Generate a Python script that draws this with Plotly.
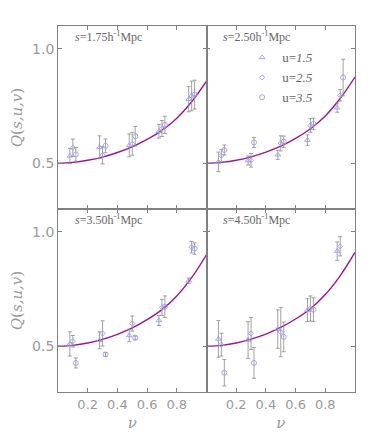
import plotly.graph_objects as go
from plotly.subplots import make_subplots

# ---- data ----
v_u15 = [0.08, 0.28, 0.48, 0.68, 0.88]
v_u25 = [0.10, 0.30, 0.50, 0.70, 0.90]
v_u35 = [0.12, 0.32, 0.52, 0.72, 0.92]

panel_labels = ["<i>s</i>=1.75h<sup>-1</sup>Mpc", "<i>s</i>=2.50h<sup>-1</sup>Mpc",
                "<i>s</i>=3.50h<sup>-1</sup>Mpc", "<i>s</i>=4.50h<sup>-1</sup>Mpc"]

# panel order: TL, TR, BL, BR
q15 = [[0.532, 0.570, 0.578, 0.640, 0.780],
       [0.506, 0.512, 0.537, 0.601, 0.743],
       [0.510, 0.526, 0.547, 0.613, 0.786],
       [0.532, 0.527, 0.575, 0.658, 0.916]]
e15 = [[0.033, 0.050, 0.050, 0.030, 0.055],
       [0.043, 0.020, 0.020, 0.023, 0.020],
       [0.053, 0.037, 0.027, 0.022, 0.012],
       [0.080, 0.080, 0.084, 0.050, 0.040]]
q25 = [[0.568, 0.535, 0.585, 0.652, 0.794],
       [0.533, 0.513, 0.587, 0.665, 0.797],
       [0.522, 0.556, 0.599, 0.670, 0.933],
       [0.507, 0.556, 0.562, 0.665, 0.937]]
e25 = [[0.038, 0.038, 0.050, 0.035, 0.065],
       [0.027, 0.030, 0.033, 0.030, 0.025],
       [0.025, 0.055, 0.033, 0.035, 0.025],
       [0.050, 0.070, 0.108, 0.055, 0.042]]
q35 = [[0.539, 0.576, 0.618, 0.668, 0.800],
       [0.558, 0.591, 0.594, 0.672, 0.875],
       [0.427, 0.464, 0.537, 0.673, 0.927],
       [0.384, 0.427, 0.541, 0.660, None]]
e35 = [[0.030, 0.030, 0.043, 0.038, 0.063],
       [0.022, 0.022, 0.025, 0.025, 0.080],
       [0.022, 0.008, 0.008, 0.047, 0.025],
       [0.058, 0.067, 0.065, 0.052, None]]

v_curve = [0.0, 0.1, 0.2, 0.3, 0.4, 0.5, 0.6, 0.7, 0.8, 0.9, 1.0]
q_curve = [[0.5, 0.504, 0.513, 0.527, 0.547, 0.572, 0.604, 0.644, 0.697, 0.769, 0.859],
           [0.5, 0.504, 0.513, 0.528, 0.549, 0.575, 0.609, 0.651, 0.707, 0.783, 0.877],
           [0.5, 0.504, 0.514, 0.530, 0.552, 0.580, 0.616, 0.660, 0.720, 0.800, 0.900],
           [0.5, 0.504, 0.514, 0.531, 0.553, 0.582, 0.619, 0.664, 0.726, 0.808, 0.910]]

x_ticks = [0.2, 0.4, 0.6, 0.8]
y_ticks = [0.5, 1.0]

# ---- style ----
MK = "#9c9cf0"
ERR = "#8a8a8a"
CURVE = "#9a149a"
AX = "#808080"
TXT = "#999999"

fig = make_subplots(rows=2, cols=2, horizontal_spacing=0, vertical_spacing=0)
pos = [(1, 1), (1, 2), (2, 1), (2, 2)]

series = [("u=<i>1.5</i>", v_u15, q15, e15, "triangle-up-open", 5),
          ("u=<i>2.5</i>", v_u25, q25, e25, "diamond-open", 4),
          ("u=<i>3.5</i>", v_u35, q35, e35, "circle-open", 5)]

for i, (r, c) in enumerate(pos):
    fig.add_trace(go.Scatter(x=v_curve, y=q_curve[i], mode="lines", line_shape="spline",
                             line=dict(color=CURVE, width=1.4), showlegend=False,
                             hoverinfo="skip"), row=r, col=c)
    for name, vx, q, e, sym, sz in series:
        fig.add_trace(go.Scatter(
            x=vx, y=q[i], mode="markers", name=name,
            marker=dict(symbol=sym, size=sz, color=MK, line=dict(width=0.9, color=MK)),
            error_y=dict(type="data", array=e[i], color=ERR, thickness=0.8, width=2),
            showlegend=(i == 1), legend="legend"), row=r, col=c)

for i, (r, c) in enumerate(pos):
    fig.update_xaxes(range=[0, 1], tickvals=x_ticks, ticks="inside", ticklen=4,
                     tickcolor=AX, showline=True, linecolor=AX, linewidth=0.8, mirror="allticks",
                     showgrid=False, zeroline=False, showticklabels=(r == 2), automargin=False,
                     ticktext=[f"{t:.1f}" for t in x_ticks],
                     tickfont=dict(family="DejaVu Sans", size=13, color=TXT), row=r, col=c)
    fig.update_yaxes(range=[0.3, 1.1], tickvals=y_ticks, ticks="inside", ticklen=4,
                     tickcolor=AX, showline=True, linecolor=AX, linewidth=0.8, mirror="allticks",
                     showgrid=False, zeroline=False, showticklabels=(c == 1), automargin=False,
                     ticktext=[f"{t:.1f}" for t in y_ticks],
                     tickfont=dict(family="DejaVu Sans", size=14, color=TXT), row=r, col=c)

fig.update_xaxes(title_text="<i>ν</i>", title_font=dict(family="DejaVu Serif", size=15, color=TXT),
                 title_standoff=6, row=2, col=1)
fig.update_xaxes(title_text="<i>ν</i>", title_font=dict(family="DejaVu Serif", size=15, color=TXT),
                 title_standoff=6, row=2, col=2)
for r in (1, 2):
    fig.update_yaxes(title_text="<i>Q</i>(<i>s,u,v</i>)",
                     title_font=dict(family="DejaVu Serif", size=15, color=TXT),
                     title_standoff=6, row=r, col=1)

# panel labels
xrefs = ["x", "x2", "x3", "x4"]
yrefs = ["y", "y2", "y3", "y4"]
for i in range(4):
    fig.add_annotation(x=0.1, y=1.055, xref=xrefs[i], yref=yrefs[i], text=panel_labels[i],
                       showarrow=False, xanchor="left", yanchor="middle",
                       font=dict(family="Liberation Serif", size=12, color="#666666"))

fig.update_layout(
    width=371, height=445,
    margin=dict(l=50, r=24, t=18, b=61, autoexpand=False),
    paper_bgcolor="white", plot_bgcolor="white",
    showlegend=True,
    legend=dict(x=0.62, y=0.955, xref="paper", yref="paper", xanchor="left", yanchor="top",
                bgcolor="rgba(0,0,0,0)", font=dict(family="Liberation Serif", size=13, color="#666666"),
                itemwidth=30, tracegroupgap=0),
)

fig.write_html("out.html")
